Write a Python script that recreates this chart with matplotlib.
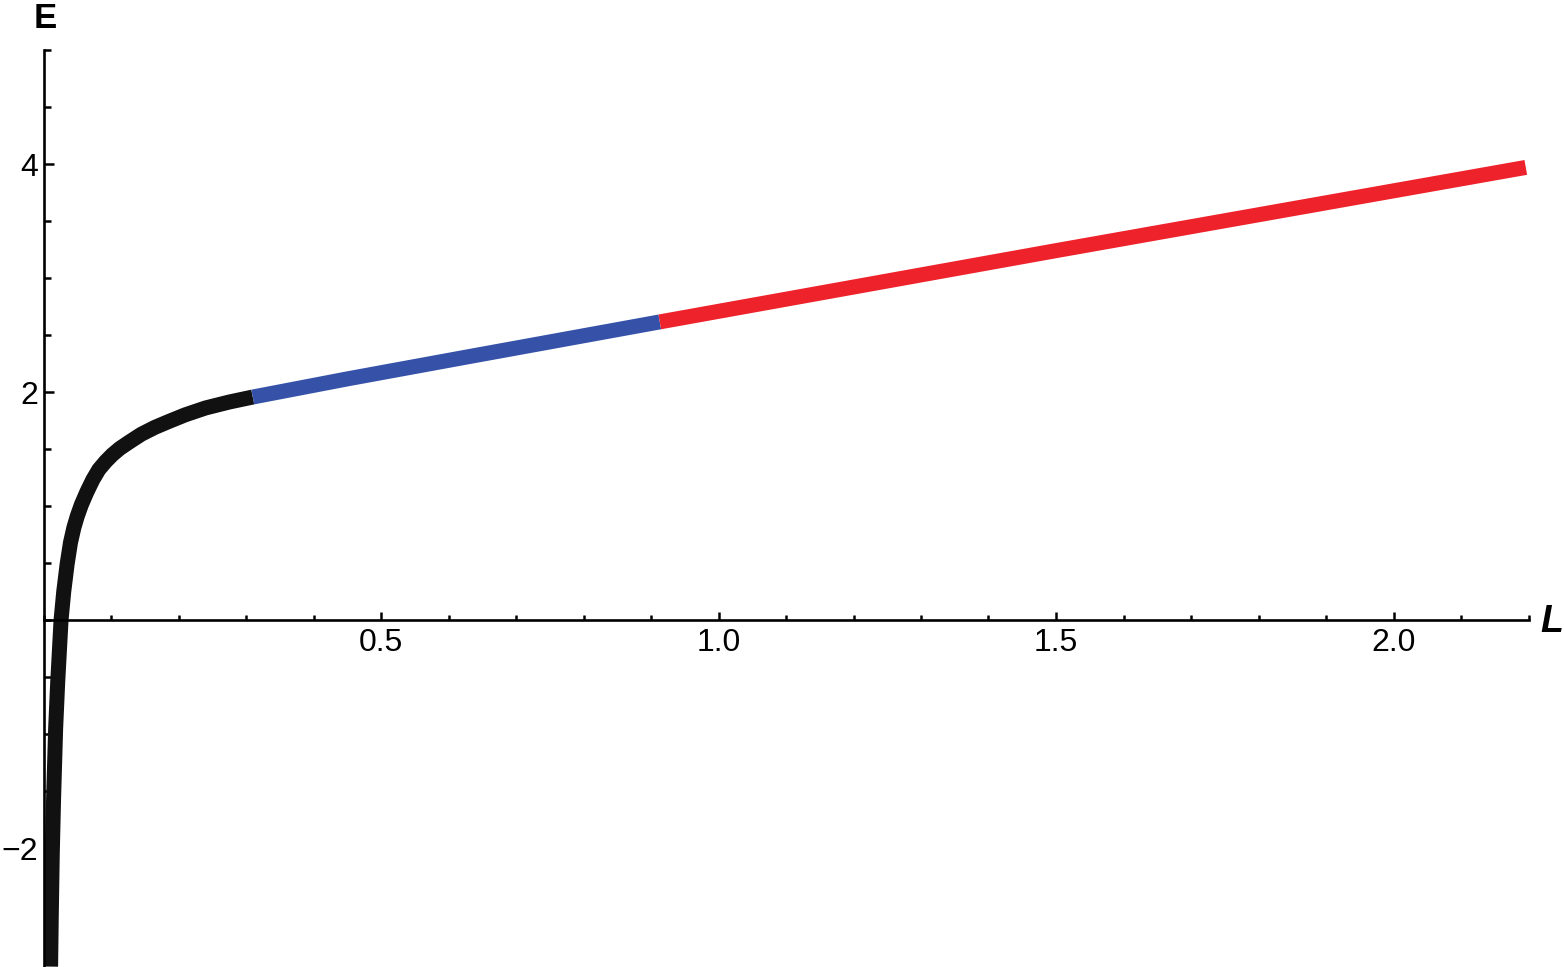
import matplotlib
matplotlib.use('Agg')
import matplotlib.pyplot as plt
from matplotlib.ticker import MultipleLocator

plt.rcParams['font.family'] = ['Liberation Sans', 'DejaVu Sans']

# curve, split in three coloured parts
black_L = [0.0105, 0.0115, 0.013, 0.015, 0.018, 0.021, 0.026, 0.030, 0.035,
           0.040, 0.045, 0.050, 0.056, 0.064, 0.073, 0.082, 0.092, 0.102,
           0.113, 0.128, 0.145, 0.165, 0.185, 0.210, 0.240, 0.275, 0.310]
black_E = [-3.04, -2.60, -2.05, -1.55, -0.95, -0.55, 0.00, 0.25, 0.49,
           0.68, 0.81, 0.91, 1.01, 1.12, 1.23, 1.32, 1.39, 1.45,
           1.505, 1.565, 1.63, 1.69, 1.74, 1.80, 1.86, 1.912, 1.956]
blue_L = [0.310, 0.450, 0.627, 0.913]
blue_E = [1.956, 2.115, 2.307, 2.615]
red_L = [0.913, 1.5, 2.196]
red_E = [2.615, 3.24, 3.97]

x_ticks = [0.5, 1.0, 1.5, 2.0]
y_ticks = [-2, 2, 4]

fig = plt.figure(figsize=(15.64, 9.67), dpi=100)
ax = fig.add_axes([43.5 / 1564, 0.0004, 1485 / 1564, 0.9479])

lw = 10.8
ax.plot(black_L, black_E, color='#111111', lw=lw, solid_capstyle='butt', solid_joinstyle='round')
ax.plot(blue_L, blue_E, color='#3552a8', lw=lw, solid_capstyle='butt', solid_joinstyle='round')
ax.plot(red_L, red_E, color='#ee222b', lw=lw, solid_capstyle='butt', solid_joinstyle='round')

ax.set_xlim(0, 2.2)
ax.set_ylim(-3.04, 5.0)

# axes through the origin
for s in ['top', 'right']:
    ax.spines[s].set_visible(False)
ax.spines['left'].set_position(('data', 0))
ax.spines['bottom'].set_position(('data', 0))
ax.spines['left'].set_linewidth(1.9)
ax.spines['bottom'].set_linewidth(1.9)

ax.set_xticks(x_ticks)
ax.set_xticklabels([f'{v:.1f}' for v in x_ticks])
ax.set_yticks(y_ticks)
ax.set_yticklabels(['\u22122', '2', '4'])
ax.xaxis.set_minor_locator(MultipleLocator(0.1))
ax.yaxis.set_minor_locator(MultipleLocator(0.5))

ax.tick_params(which='both', direction='in', width=1.8, labelsize=23)
ax.tick_params(axis='x', which='major', length=6, pad=6)
ax.tick_params(axis='x', which='minor', length=3.5)
ax.tick_params(axis='y', which='major', length=7, pad=4)
ax.tick_params(axis='y', which='minor', length=5)

fig.text(45 / 1564, 1 - 18 / 967, 'E', fontsize=25, fontweight='bold',
         ha='center', va='center')
fig.text(1552 / 1564, 1 - 622 / 967, 'L', fontsize=27, fontweight='bold',
         fontstyle='italic', ha='center', va='center')

fig.savefig('out.png', dpi=100)
